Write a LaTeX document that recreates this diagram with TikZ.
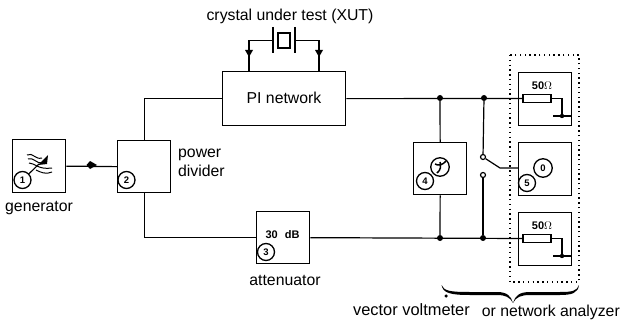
\documentclass[tikz,border=0pt]{standalone}
\usepackage{fontspec}
\setmainfont{Liberation Sans}
\tikzset{
  unit/.style={draw,line width=1.3pt,inner sep=0pt,anchor=north west},
  wire/.style={line width=1.2pt},
  lab/.style={font=\fontsize{15.8}{17}\selectfont,inner sep=0pt},
  num/.style={draw,circle,fill=white,line width=1.3pt,minimum size=17pt,inner sep=0pt,font=\fontsize{9.5}{10}\bfseries\selectfont},
  dotj/.style={circle,fill=black,minimum size=6pt,inner sep=0pt},
  contact/.style={circle,draw,fill=white,line width=1.2pt,minimum size=5pt,inner sep=0pt},
  res/.style={draw,line width=1.2pt,minimum width=28pt,minimum height=8pt,inner sep=0pt},
  small/.style={font=\fontsize{11}{12}\bfseries\selectfont,inner sep=0pt}
}
\begin{document}
\begin{tikzpicture}[x=1pt,y=-1pt]
\useasboundingbox (0,0) rectangle (620,323);
\fill[white] (0,0) rectangle (620,323);
% boxes
\node[unit,minimum width=53pt,minimum height=53pt] (gen) at (12,139) {};
\node[unit,minimum width=53pt,minimum height=52pt] (pd) at (117,140) {};
\node[unit,minimum width=123pt,minimum height=54pt] (pi) at (222,71) {};
\node[unit,minimum width=53pt,minimum height=52pt] (att) at (256,211) {};
\node[unit,minimum width=53pt,minimum height=52pt] (vv) at (413,142) {};
\node[unit,minimum width=53pt,minimum height=53pt] (rt) at (518,72) {};
\node[unit,minimum width=53pt,minimum height=53pt] (sw) at (518,142) {};
\node[unit,minimum width=53pt,minimum height=53pt] (rb) at (518,212) {};
\draw[line width=1.3pt,dash pattern=on 1.4pt off 3.4pt] (510,55) rectangle (579,282);
% labels
\node[lab] (pitxt) at (284,98) {PI network};
\node[lab,anchor=west] (pdtxt) at (178,155) {power};
\node[lab,anchor=west] (pdtxt2) at (178,171) {divider};
\node[lab] (gentxt) at (39,208) {generator};
\node[lab] (atttxt) at (285,280) {attenuator};
\node[lab] (xut) at (290,16) {crystal under test (XUT)};
\node[lab,font=\fontsize{16.4}{17}\selectfont,anchor=east] (vvtxt) at (470,310) {vector voltmeter};
\node[lab,anchor=east] (natxt) at (620,312) {or network analyzer};
\node[circle,fill=black,minimum size=3.5pt,inner sep=0pt] (spk) at (446,296) {};
\node[small] (db) at (282.5,234.5) {30\hspace{7pt}dB};
% numbers
\node[num] (n1) at (22.5,180) {1};
\node[num] (n2) at (126.5,180) {2};
\node[num] (n3) at (266,252) {3};
\node[num] (n4) at (425,181) {4};
\node[num] (n5) at (527,183) {5};
\node[num,minimum size=18.5pt] (n6) at (440,167) {};
\node[num,minimum size=18.5pt] (n7) at (543,168) {0};
\draw[line width=1.5pt] (437,173) .. controls (441,170) and (441,166) .. (440,162)
  (435,164) .. controls (438,166) and (443,165) .. (446,161);
% generator symbol
\draw[line width=1.1pt] (n1) -- (39,164);
\draw[line width=1pt] (27,155) .. controls (33,152) and (35,160) .. (42,158);
\draw[line width=1pt] (28,159) .. controls (34,157) and (36,164) .. (43,163);
\draw[line width=1pt] (29,163) .. controls (35,163) and (38,170) .. (52,168);
\draw[line width=1pt] (36,170) .. controls (40,172) and (46,175) .. (52,172);
\fill (38,165) -- (48,155) -- (47,164) -- cycle;
% generator link
\draw[wire] (gen.east) -- (pd.west);
\fill (86.5,165) -- (90,161) -- (97,165) -- (90,169) -- cycle;
% splitter wires
\draw[wire] (pd.north) |- (pi.west);
\draw[wire] (pd.south) |- (att.west);
% junctions and resistors
\node[dotj] (j1) at (440,98) {};
\node[dotj] (j2) at (484,98) {};
\node[dotj] (j3) at (440,238) {};
\node[dotj] (j4) at (483,238) {};
\node[res] (r1) at (537,98.5) {};
\node[res] (r2) at (537,238.5) {};
\draw[wire] (pi.east) -- (r1.west);
\draw[wire] (att.east) -- (r2.west);
\draw[wire] (j1) -- (vv.north);
\draw[wire] (vv.south) -- (j3);
% switch
\node[contact] (c1) at (483,157) {};
\node[contact] (c2) at (483,175) {};
\coordinate (sk) at (500,168);
\draw[wire] (j2) -- (c1);
\draw[wire] (j4) -- (c2);
\draw[wire] (c1) -- (sk) -- (sw.west |- sk);
% terminations
\coordinate (g1) at (562,116);
\coordinate (g2) at (562,256);
\draw[wire] (r1.east) -| (g1);
\draw[wire] (r2.east) -| (g2);
\draw[wire] (553,116) -- (rt.east |- g1);
\draw[wire] (553,256) -- (rb.east |- g2);
\fill (g1) circle (2.2pt);
\fill (g2) circle (2.2pt);
\node[small] (t50) at (542,85.5) {50$\Omega$};
\node[small] (b50) at (542,225.5) {50$\Omega$};
% crystal
\node[draw,line width=1.2pt,minimum width=12pt,minimum height=15pt,inner sep=0pt] (xt) at (284,40.5) {};
\coordinate (pl) at (273,40.5);
\coordinate (pr) at (295,40.5);
\draw[line width=1.4pt] (273,27) -- (273,53);
\draw[line width=1.4pt] (295,27) -- (295,53);
\coordinate (lt) at (249,71);
\coordinate (rt2) at (319,71);
\draw[wire] (pl) -| (lt);
\draw[wire] (pr) -| (rt2);
\fill (245,50) -- (253,50) -- (249,57) -- cycle;
\fill (315,50) -- (323,50) -- (319,57) -- cycle;
% brace
\fill (441.5,285) .. controls (444,291) and (450,292) .. (470,292)
  -- (497,292) .. controls (507,292) and (511,296) .. (513,303)
  .. controls (515,296) and (519,292) .. (530,292)
  -- (560,292) .. controls (572,292) and (577,291) .. (579,285)
  .. controls (578,293) and (572,295) .. (560,295)
  -- (530,295) .. controls (521,295) and (516,297) .. (513,303)
  .. controls (510,297) and (505,295) .. (497,295)
  -- (470,295) .. controls (450,295) and (443,293) .. (441.5,285) -- cycle;
\end{tikzpicture}
\end{document}
